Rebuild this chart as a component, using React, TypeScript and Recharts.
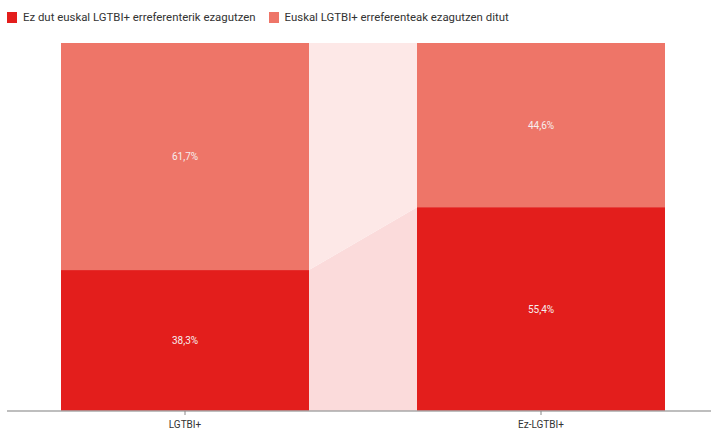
import { BarChart, Bar, XAxis, YAxis, LabelList } from "recharts";

const categories = ["LGTBI+", "Ez-LGTBI+"];
const ezDut = [38.3, 55.4];
const ezagutzenDitut = [61.7, 44.6];

const SERIES = [
  { key: "ez", name: "Ez dut euskal LGTBI+ erreferenterik ezagutzen", color: "#e31e1c", connector: "#fbdbdb" },
  { key: "eu", name: "Euskal LGTBI+ erreferenteak ezagutzen ditut", color: "#ee7568", connector: "#fde8e7" },
];

const CAT_GAP = 54;
const FONT = "Roboto, 'Noto Sans', sans-serif";

const data = categories.map((c, i) => ({ name: c, ez: ezDut[i], eu: ezagutzenDitut[i] }));

function makeShape(seriesIndex: number) {
  return (props: any) => {
    const { x, y, width, height, index, payload } = props;
    const s = SERIES[seriesIndex];
    const next = data[index + 1];
    let connector = null;
    if (next) {
      const v = payload[s.key];
      const k = height / v;
      let lower = 0;
      let lowerNext = 0;
      for (let j = 0; j < seriesIndex; j++) {
        lower += payload[SERIES[j].key];
        lowerNext += (next as any)[SERIES[j].key];
      }
      const plotBottom = y + height + lower * k;
      const nBottom = plotBottom - lowerNext * k;
      const nTop = plotBottom - (lowerNext + (next as any)[s.key]) * k;
      const x1 = x + width;
      const x2 = x + width + CAT_GAP * 2;
      connector = (
        <polygon
          points={`${x1},${y} ${x2},${nTop} ${x2},${nBottom} ${x1},${y + height}`}
          fill={s.connector}
        />
      );
    }
    return (
      <g>
        {connector}
        <rect x={x} y={y} width={width} height={height} fill={s.color} />
      </g>
    );
  };
}

const fmtPct = (v: any) => `${String(v).replace(".", ",")}%`;

export default function App() {
  return (
    <div style={{ position: "absolute", left: 0, top: 0, width: 711, height: 432, overflow: "hidden", background: "#fff", fontFamily: FONT }}>
      <div style={{ position: "absolute", left: 7, top: 10, display: "flex", alignItems: "center", fontSize: 11.4, color: "#333" }}>
        {SERIES.map((s) => (
          <div key={s.key} style={{ display: "flex", alignItems: "center", marginRight: 13 }}>
            <span style={{ display: "inline-block", width: 10, height: 11, background: s.color, marginRight: 6 }} />
            <span>{s.name}</span>
          </div>
        ))}
      </div>
      <BarChart
        width={720}
        height={432}
        data={data}
        margin={{ top: 43, right: 1, left: 7, bottom: 0 }}
        barCategoryGap={CAT_GAP}
      >
        <XAxis
          dataKey="name"
          height={21}
          axisLine={{ stroke: "#a8a8a8", strokeWidth: 1.5 }}
          tickLine={{ stroke: "#888" }}
          tickSize={4}
          tickMargin={6}
          tick={{ fontSize: 10, fill: "#333", fontFamily: FONT }}
        />
        <YAxis hide domain={[0, 100]} />
        {SERIES.map((s, i) => (
          <Bar key={s.key} dataKey={s.key} name={s.name} stackId="a" fill={s.color} shape={makeShape(i)} isAnimationActive={false}>
            <LabelList dataKey={s.key} position="center" formatter={fmtPct} fill="#f6eeee" fontSize={10} fontFamily={FONT} />
          </Bar>
        ))}
      </BarChart>
    </div>
  );
}
